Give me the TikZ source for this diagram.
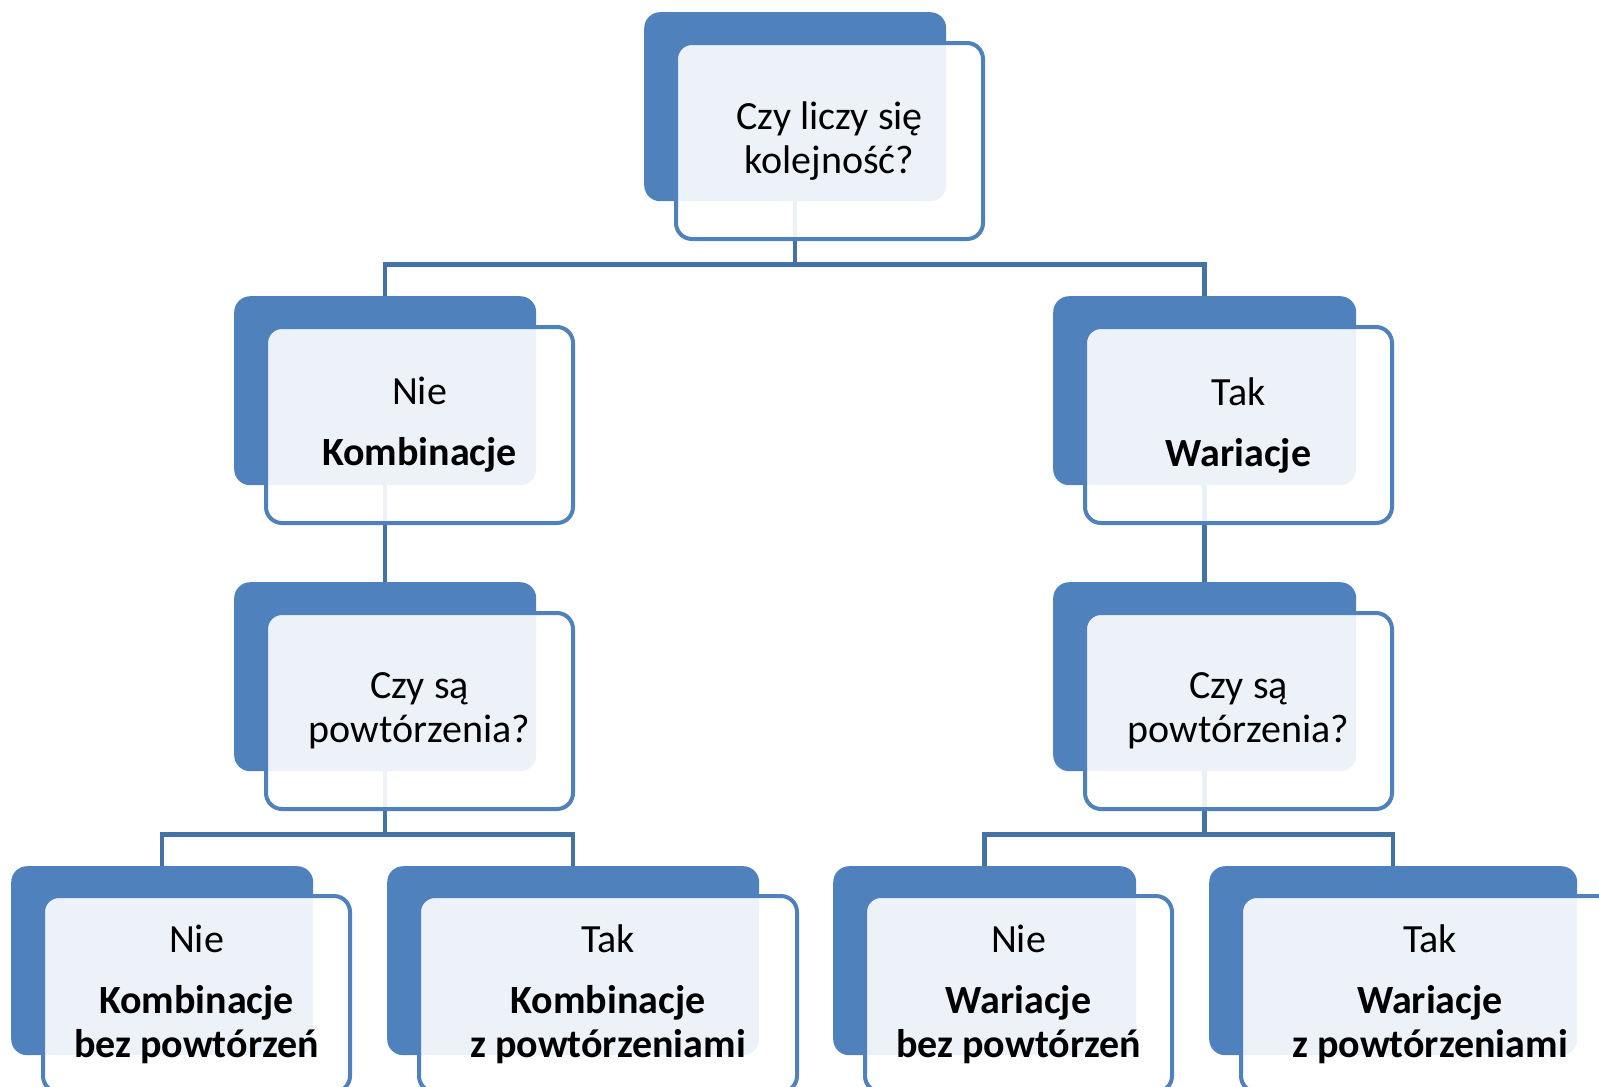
\documentclass[tikz,border=0pt]{standalone}
\usepackage{fontspec}
\setmainfont{Carlito}
\usepackage{xcolor}
\usepackage{tikz}
\usetikzlibrary{positioning, backgrounds}

\definecolor{boxblue}{RGB}{79,129,189}
\definecolor{lineblue}{RGB}{68,114,167}

\begin{document}
\begin{tikzpicture}[x=1pt, y=-1pt]
        \tikzstyle{back} = [rectangle, rounded corners=16pt, inner sep=0pt, fill=boxblue, anchor=north west, minimum width=302pt, minimum height=189pt]
        \tikzstyle{front} = [rectangle, rounded corners=16pt, inner sep=0pt, draw=boxblue, line width=4pt, fill=white, fill opacity=0.9, text opacity=1, minimum width=307pt, minimum height=196pt, align=center, font=\fontsize{40}{44}\selectfont]
        \tikzstyle{wide} = [minimum width=378pt]
        \tikzstyle{conn} = [draw=lineblue, line width=4.5pt]

        \useasboundingbox (0,0) rectangle (1599,1087);

        % back blocks
        \node (q0b) [back] at (644,12) {};
        \node (n1b) [back] at (234,296) {};
        \node (t1b) [back, minimum width=303pt] at (1053,296) {};
        \node (n2b) [back] at (234,582) {};
        \node (t2b) [back, minimum width=303pt] at (1053,582) {};
        \node (lab) [back] at (11,866) {};
        \node (lbb) [back, minimum width=372pt] at (387,866) {};
        \node (lcb) [back, minimum width=303pt] at (833,866) {};
        \node (ldb) [back, minimum width=368pt] at (1209,866) {};

        % front blocks with text
        \node (q0) [front, below right=29pt and 30pt of q0b.north west] {Czy liczy się\\kolejność?};
        \node (n1) [front, below right=29pt and 30pt of n1b.north west] {Nie\\[17pt]\textbf{Kombinacje}};
        \node (t1) [front, below right=29pt and 30pt of t1b.north west] {Tak\\[17pt]\textbf{Wariacje}};
        \node (n2) [front, below right=29pt and 30pt of n2b.north west] {Czy są\\powtórzenia?};
        \node (t2) [front, below right=29pt and 30pt of t2b.north west] {Czy są\\powtórzenia?};
        \node (la) [front, below right=28pt and 30pt of lab.north west] {Nie\\[17pt]\textbf{Kombinacje}\\\textbf{bez powtórzeń}};
        \node (lb) [front, wide, below right=28pt and 30pt of lbb.north west] {Tak\\[17pt]\textbf{Kombinacje}\\\textbf{z powtórzeniami}};
        \node (lc) [front, below right=28pt and 30pt of lcb.north west] {Nie\\[17pt]\textbf{Wariacje}\\\textbf{bez powtórzeń}};
        \node (ld) [front, wide, below right=28pt and 30pt of ldb.north west] {Tak\\[17pt]\textbf{Wariacje}\\\textbf{z powtórzeniami}};

        % connectors under the blocks
        \begin{scope}[on background layer]
        \draw [conn] (q0b.south) -- ++(0,63) -| (n1b.north);
        \draw [conn] (q0b.south) -- ++(0,63) -| (t1b.north);
        \draw [conn] (n1b.south) -- (n2b.north);
        \draw [conn] (t1b.south) -- (t2b.north);
        \draw [conn] (n2b.south) -- ++(0,63) -| (lab.north);
        \draw [conn] (n2b.south) -- ++(0,63) -| (lbb.north);
        \draw [conn] (t2b.south) -- ++(0,63) -| (lcb.north);
        \draw [conn] (t2b.south) -- ++(0,63) -| (ldb.north);
        \end{scope}
    \end{tikzpicture}
\end{document}
